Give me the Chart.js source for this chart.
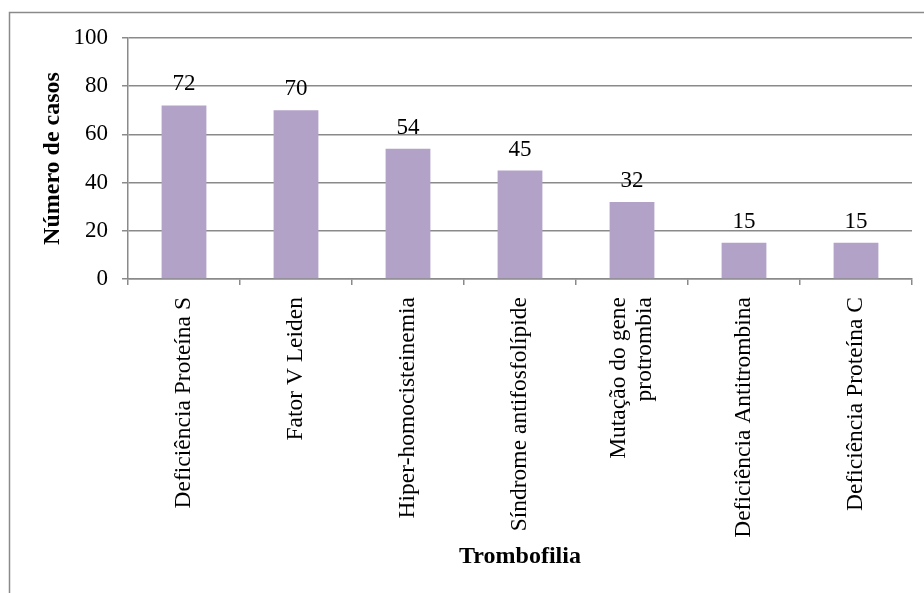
<!DOCTYPE html>
<html>
<head>
<meta charset="utf-8">
<script src="https://cdn.jsdelivr.net/npm/chart.js@4/dist/chart.umd.min.js"></script>
<style>
  html, body { margin: 0; padding: 0; background: #fff; }
  #wrap { position: relative; width: 924px; height: 593px; }
</style>
</head>
<body>
<div id="wrap"><canvas id="chart"></canvas></div>
<script>
// dados do gráfico
const categories = [
    'Deficiência Proteína S',
    'Fator V Leiden',
    'Hiper-homocisteinemia',
    'Síndrome antifosfolípide',
    ['Mutação do gene', 'protrombia'],
    'Deficiência Antitrombina',
    'Deficiência Proteína C'
];
const casos = [72, 70, 54, 45, 32, 15, 15];
const yTicks = [0, 20, 40, 60, 80, 100];

const serif = "'Liberation Serif', 'Times New Roman', serif";
const gridColor = '#8a8a8a';

// moldura externa (só topo e esquerda aparecem)
const framePlugin = {
    id: 'frame',
    beforeDraw(chart) {
        const ctx = chart.ctx;
        ctx.save();
        ctx.fillStyle = '#fff';
        ctx.fillRect(0, 0, chart.width, chart.height);
        ctx.strokeStyle = '#8a8a8a';
        ctx.lineWidth = 1.5;
        ctx.strokeRect(9.5, 12.5, 1000, 1000);
        ctx.restore();

        // centraliza os rótulos de várias linhas sobre a barra
        const items = chart.scales.x.getLabelItems();
        items.forEach(item => {
            if (Array.isArray(item.label) && item.label.length > 1) {
                item.textOffset -= (item.label.length - 1) * item.font.lineHeight / 2;
            }
        });
    }
};

// rótulos de valor acima das barras
const valueLabels = {
    id: 'valueLabels',
    afterDatasetsDraw(chart) {
        const ctx = chart.ctx;
        const meta = chart.getDatasetMeta(0);
        ctx.save();
        ctx.font = '23px ' + serif;
        ctx.fillStyle = '#000';
        ctx.textAlign = 'center';
        ctx.textBaseline = 'alphabetic';
        meta.data.forEach((bar, i) => {
            ctx.fillText(String(casos[i]), bar.x, bar.y - 15);
        });
        ctx.restore();
    }
};

const ctx = document.getElementById('chart').getContext('2d');
new Chart(ctx, {
    type: 'bar',
    data: {
        labels: categories,
        datasets: [{
            data: casos,
            backgroundColor: '#B3A2C7',
            borderWidth: 0,
            categoryPercentage: 1,
            barPercentage: 0.4
        }]
    },
    options: {
        responsive: true,
        maintainAspectRatio: false,
        animation: false,
        devicePixelRatio: 1,
        layout: { padding: { top: 38, right: 12, bottom: 0, left: 0 } },
        plugins: {
            legend: { display: false },
            tooltip: { enabled: false }
        },
        scales: {
            x: {
                grid: {
                    offset: true,
                    drawOnChartArea: false,
                    drawTicks: true,
                    tickLength: 6,
                    color: gridColor,
                    lineWidth: 1.5
                },
                border: { color: gridColor, width: 1.5 },
                ticks: {
                    autoSkip: false,
                    minRotation: 90,
                    maxRotation: 90,
                    padding: 12,
                    color: '#000',
                    font: { family: serif, size: 23.5, lineHeight: 1.1 }
                },
                title: {
                    display: true,
                    text: 'Trombofilia',
                    color: '#000',
                    font: { family: serif, size: 24, weight: 'bold', lineHeight: 1.2 },
                    padding: { top: 0, bottom: 22 }
                },
                afterFit(scale) { scale.height = 314; }
            },
            y: {
                min: 0,
                max: 100,
                afterBuildTicks(scale) {
                    scale.ticks = yTicks.map(v => ({ value: v }));
                },
                grid: {
                    color: gridColor,
                    lineWidth: 1.5,
                    tickLength: 6
                },
                border: { color: gridColor, width: 1.5 },
                ticks: {
                    padding: 14,
                    color: '#000',
                    font: { family: serif, size: 23 }
                },
                title: {
                    display: true,
                    text: 'Número de casos',
                    color: '#000',
                    font: { family: serif, size: 24, weight: 'bold', lineHeight: 1.2 },
                    padding: { top: 38, bottom: 0 }
                },
                afterFit(scale) { scale.width = 128; }
            }
        }
    },
    plugins: [framePlugin, valueLabels]
});
</script>
</body>
</html>
